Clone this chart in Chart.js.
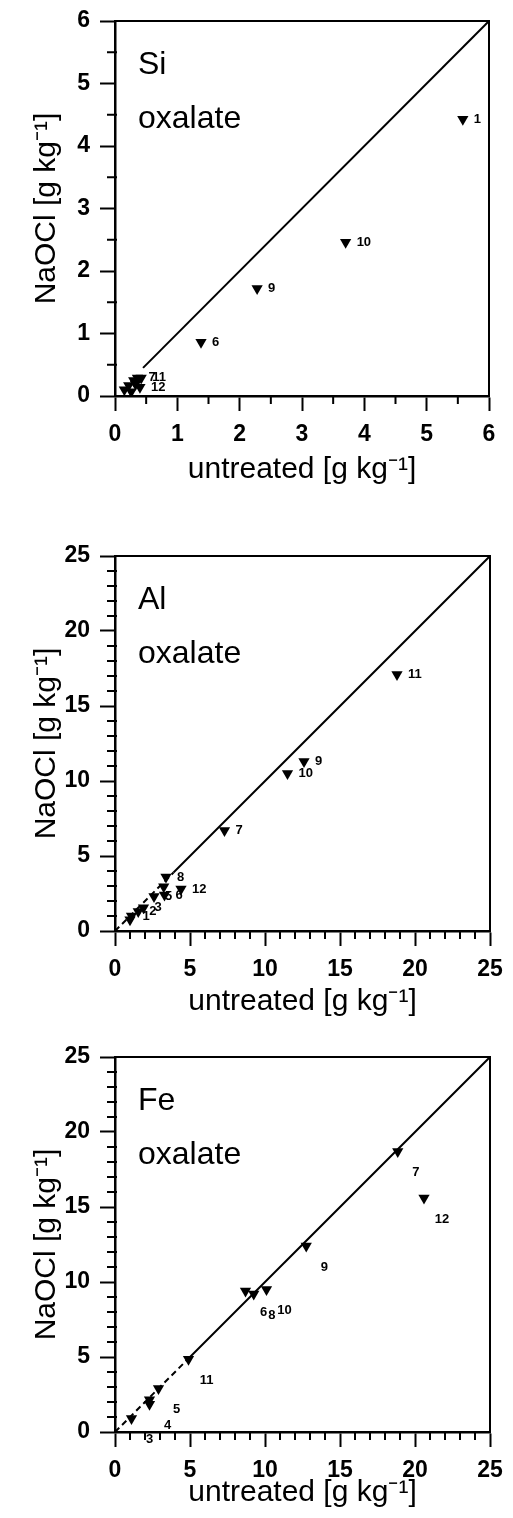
<!DOCTYPE html>
<html><head><meta charset="utf-8">
<script src="https://cdn.jsdelivr.net/npm/chart.js@4.4.0/dist/chart.umd.min.js"></script>
<style>
html,body{margin:0;padding:0;background:#fff;}
body{width:513px;height:1518px;position:relative;overflow:hidden;}
canvas{position:absolute;left:0;}
</style></head><body>
<canvas id="c1" width="513" height="503" style="top:-15px"></canvas>
<canvas id="c2" width="513" height="500" style="top:520px"></canvas>
<canvas id="c3" width="513" height="500" style="top:1021px"></canvas>
<script>
// ---- data ----
const siX = [5.58, 3.70, 2.28, 1.38, 0.42, 0.36, 0.40, 0.30, 0.22, 0.15, 0.26, 0.33];
const siY = [4.43, 2.46, 1.72, 0.86, 0.29, 0.29, 0.14, 0.25, 0.17, 0.10, 0.07, 0.19];
const siLab = ['1','10','9','6','11','7','12','','','','',''];
const siTicks = [0,1,2,3,4,5,6];
const siMinor = 0.5;
const siDiagSolid = [0.45, 6];

const alX = [18.8, 12.6, 11.5, 7.3, 3.4, 4.4, 3.25, 3.3, 2.6, 1.9, 1.55, 1.1, 1.0];
const alY = [17.1, 11.3, 10.5, 6.7, 3.6, 2.8, 2.95, 2.4, 2.3, 1.55, 1.3, 1.0, 0.75];
const alLab = ['11','9','10','7','8','12','','6','5','3','2','1',''];
const alTicks = [0,5,10,15,20,25];
const alMinor = 1;
const alDiagDash = [0, 3.9];
const alDiagSolid = [3.9, 25];

const feX = [18.85, 20.6, 12.75, 10.1, 9.25, 8.7, 4.9, 2.9, 2.3, 2.3, 1.1];
const feY = [18.7, 15.6, 12.4, 9.5, 9.2, 9.4, 4.85, 2.9, 2.15, 1.85, 0.9];
const feLab = ['7','12','9','10','8','6','11','5','','4','3'];
const feTicks = [0,5,10,15,20,25];
const feMinor = 1;
const feDiagDash = [0, 5];
const feDiagSolid = [5, 25];

const xTitle = 'untreated [g kg\u207B\u00B9]';
const yTitle = 'NaOCl [g kg\u207B\u00B9]';
// ---------------

const FAM = "'Liberation Sans', Arial, Helvetica, sans-serif";
Chart.defaults.font.family = FAM;
Chart.defaults.color = '#000';

function pts(xs, ys){ return xs.map((x,i)=>({x:x, y:ys[i]})); }
function diag(a){ return a.map(v=>({x:v, y:v})); }

function makeChart(id, o){
  const frame = {
    id:'frame'+id,
    afterDraw(chart){
      const ctx = chart.ctx, a = chart.chartArea, xs = chart.scales.x, ys = chart.scales.y;
      ctx.save();
      ctx.strokeStyle = '#000';
      ctx.lineWidth = 2;
      ctx.strokeRect(a.left, a.top, a.right - a.left, a.bottom - a.top);
      ctx.beginPath();
      const n = Math.round(o.max / o.minor);
      for (let k = 0; k <= n; k++){
        const v = k * o.minor;
        if (o.ticks.some(m => Math.abs(m - v) < 1e-9)) continue;
        const px = xs.getPixelForValue(v);
        ctx.moveTo(px, a.bottom); ctx.lineTo(px, a.bottom + 8);
        const py = ys.getPixelForValue(v);
        ctx.moveTo(a.left + 2, py); ctx.lineTo(a.left - 8, py);
      }
      ctx.stroke();
      ctx.fillStyle = '#000';
      ctx.font = '32px ' + FAM;
      ctx.textAlign = 'left';
      ctx.textBaseline = 'alphabetic';
      ctx.fillText(o.elem, a.left + 23, a.top + 53);
      ctx.fillText('oxalate', a.left + 23, a.top + 107);
      ctx.restore();
    }
  };
  const labels = {
    id:'labels'+id,
    afterDatasetsDraw(chart){
      const ctx = chart.ctx;
      const meta = chart.getDatasetMeta(0);
      ctx.save();
      ctx.fillStyle = '#000';
      ctx.font = 'bold 13px ' + FAM;
      ctx.textAlign = o.lblAlign;
      ctx.textBaseline = 'middle';
      meta.data.forEach((el, i) => {
        const t = o.labels[i];
        if (!t) return;
        ctx.fillText(t, el.x + o.dx, el.y + o.dy);
      });
      ctx.restore();
    }
  };
  const datasets = [{
    data: pts(o.xs, o.ys),
    pointStyle: 'triangle', rotation: 180, pointRadius: 6.5, pointHoverRadius: 6.5,
    backgroundColor: '#000', borderColor: '#000', borderWidth: 0, showLine: false, order: 0
  }];
  if (o.dash) datasets.push({data: diag(o.dash), showLine: true, pointRadius: 0, borderColor:'#000', borderWidth: 2, borderDash:[6,4], order: 1});
  datasets.push({data: diag(o.solid), showLine: true, pointRadius: 0, borderColor:'#000', borderWidth: 2, order: 1});

  const tickFont = {size: 23, weight: 'bold', family: FAM};
  new Chart(document.getElementById(id), {
    type: 'scatter',
    data: {datasets},
    options: {
      responsive: false, animation: false,
      layout: {padding: {top: 36, right: o.right, left: 0, bottom: 0}},
      plugins: {legend: {display: false}, tooltip: {enabled: false}},
      scales: {
        x: {
          type: 'linear', min: 0, max: o.max,
          afterBuildTicks: s => { s.ticks = o.ticks.map(v => ({value: v})); },
          afterFit: s => { s.height = o.xH; },
          ticks: {font: tickFont, color: '#000', padding: 10, maxRotation: 0, autoSkip: false},
          grid: {drawOnChartArea: false, drawTicks: true, tickLength: 15, tickColor: '#000', tickWidth: 2},
          border: {display: true, color: '#000', width: 2.5},
          title: {display: true, text: xTitle, font: {size: 30, family: FAM}, color: '#000', padding: {top: 0, bottom: o.tPad}}
        },
        y: {
          type: 'linear', min: 0, max: o.max,
          afterBuildTicks: s => { s.ticks = o.ticks.map(v => ({value: v})); },
          afterFit: s => { s.width = 115; },
          ticks: {font: tickFont, color: '#000', padding: 10, autoSkip: false},
          grid: {drawOnChartArea: false, drawTicks: true, tickLength: 15, tickColor: '#000', tickWidth: 2},
          border: {display: true, color: '#000', width: 2.5},
          title: {display: true, text: yTitle, font: {size: 30, family: FAM}, color: '#000', padding: {top: 29, bottom: 0}}
        }
      }
    },
    plugins: [frame, labels]
  });
}

makeChart('c1', {xs: siX, ys: siY, labels: siLab, ticks: siTicks, minor: siMinor, max: 6,
  solid: siDiagSolid, dash: null, elem: 'Si', right: 24, xH: 92, tPad: 0, dx: 11, dy: 0, lblAlign: 'left'});
makeChart('c2', {xs: alX, ys: alY, labels: alLab, ticks: alTicks, minor: alMinor, max: 25,
  solid: alDiagSolid, dash: alDiagDash, elem: 'Al', right: 23, xH: 89, tPad: 0, dx: 11, dy: 0, lblAlign: 'left'});
makeChart('c3', {xs: feX, ys: feY, labels: feLab, ticks: feTicks, minor: feMinor, max: 25,
  solid: feDiagSolid, dash: feDiagDash, elem: 'Fe', right: 23, xH: 89, tPad: 10, dx: 18, dy: 21, lblAlign: 'center'});
</script>
</body></html>
